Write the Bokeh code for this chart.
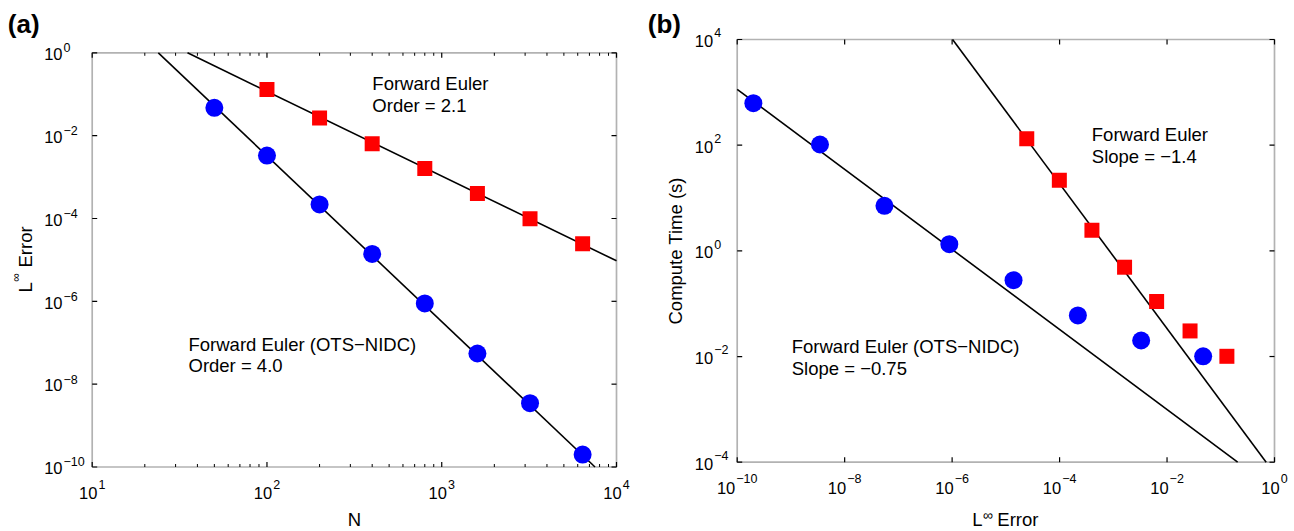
import math
from bokeh.plotting import figure
from bokeh.models import Label, Range1d, BoxAnnotation
from bokeh.layouts import row
from bokeh.embed import file_html
from bokeh.resources import INLINE

FONT = "Liberation Sans"
TEN_SIZE = 16.5
EXP_SIZE = 12.5
TXT_SIZE = 18.5
BASELINE_FIX = 0.37   # svg text sits ~0.37em low relative to canvas baseline

# ---------------- data, panel (a): L-inf error vs N ----------------
n_red = [100, 200, 400, 800, 1600, 3200, 6400]
err_red = [0.13, 2.68e-2, 6.4e-3, 1.62e-3, 4.0e-4, 9.9e-5, 2.45e-5]
n_blue = [50, 100, 200, 400, 800, 1600, 3200, 6400]
err_blue = [4.7e-2, 3.3e-3, 2.19e-4, 1.39e-5, 8.87e-7, 5.5e-8, 3.47e-9, 2.0e-10]
# fitted power-law lines (end points)
fit_a_red_n = [35.1, 1.0e4]
fit_a_red_err = [1.0, 9.5e-6]
fit_a_blue_n = [23.9, 7534]
fit_a_blue_err = [1.0, 1.0e-10]

# ---------------- data, panel (b): compute time vs error ----------------
time_red = [0.0101, 0.0305, 0.110, 0.49, 2.45, 21.8, 132]
time_blue = [0.0101, 0.0201, 0.060, 0.279, 1.34, 7.1, 103, 622]
fit_b_red_err = [1.02e-6, 0.70]
fit_b_red_time = [1.0e4, 1.0e-4]
fit_b_blue_err = [1.0e-10, 0.206]
fit_b_blue_time = [1140, 1.0e-4]

# ---------------- axis limits and ticks ----------------
a_xlim = (1e1, 1e4)
a_ylim = (1e-10, 1e0)
b_xlim = (1e-10, 1e0)
b_ylim = (1e-4, 1e4)
a_xticks = [1e1, 1e2, 1e3, 1e4]
a_xminor = [m * 10.0 ** k for k in range(1, 4) for m in range(2, 10)]
a_yticks = [1e-10, 1e-8, 1e-6, 1e-4, 1e-2, 1e0]
b_xticks = [1e-10, 1e-8, 1e-6, 1e-4, 1e-2, 1e0]
b_yticks = [1e-4, 1e-2, 1e0, 1e2, 1e4]

# ---------------- layout (pixels) ----------------
H = 530
WA, WB = 646, 646
BOX_A = dict(left=91.7, right=616.0, top=52.3, bottom=466.5)
BOX_B = dict(left=90.7, right=628.0, top=39.0, bottom=461.7)

BLUE = "#0000FF"
RED = "#FF0000"


def log_span(v_lo, v_hi, p_lo, p_hi, size):
    """values at pixel 0 and pixel `size` when v_lo sits at p_lo and v_hi at p_hi"""
    k = (math.log10(v_hi) - math.log10(v_lo)) / (p_hi - p_lo)
    return 10 ** (math.log10(v_lo) - p_lo * k), 10 ** (math.log10(v_lo) + (size - p_lo) * k)


def make_fig(w, box, xlim, ylim):
    x0, x1 = log_span(xlim[0], xlim[1], box["left"], box["right"], w)
    # y pixels grow downwards: top of canvas = pixel 0
    y_top, y_bot = log_span(ylim[1], ylim[0], box["top"], box["bottom"], H)
    p = figure(width=w, height=H, x_axis_type="log", y_axis_type="log",
               x_range=Range1d(x0, x1), y_range=Range1d(y_bot, y_top),
               x_axis_location=None, y_axis_location=None,
               min_border=0, min_border_left=0, min_border_right=0,
               min_border_top=0, min_border_bottom=0,
               output_backend="svg", toolbar_location=None,
               background_fill_color="white", border_fill_color="white")
    p.outline_line_color = None
    p.grid.visible = False
    p.add_layout(BoxAnnotation(left=xlim[0], right=xlim[1], bottom=ylim[0], top=ylim[1],
                               fill_color=None, fill_alpha=0, line_color="black",
                               line_width=1.7))
    return p


def box_ticks(p, xlim, ylim, xt, yt, length, lw):
    if xt:
        p.ray(x=xt, y=[ylim[0]] * len(xt), length=length, angle=math.pi / 2,
              length_units="screen", line_color="black", line_width=lw)
        p.ray(x=xt, y=[ylim[1]] * len(xt), length=length, angle=-math.pi / 2,
              length_units="screen", line_color="black", line_width=lw)
    if yt:
        p.ray(x=[xlim[0]] * len(yt), y=yt, length=length, angle=0.0,
              length_units="screen", line_color="black", line_width=lw)
        p.ray(x=[xlim[1]] * len(yt), y=yt, length=length, angle=math.pi,
              length_units="screen", line_color="black", line_width=lw)


def lab(p, x, y, text, size, xo=0.0, yo=0.0, align="left", baseline="alphabetic",
        angle=0.0, bold=False):
    if angle == 0.0:
        yo += BASELINE_FIX * size
    else:
        xo -= BASELINE_FIX * size
    p.add_layout(Label(x=x, y=y, x_units="data", y_units="data", text=text,
                       x_offset=xo, y_offset=yo, text_font=FONT,
                       text_font_size=f"{size}px", text_align=align,
                       text_baseline=baseline, angle=angle,
                       text_font_style="bold" if bold else "normal",
                       text_color="black"))


def exp_text(t):
    return str(round(math.log10(t))).replace("-", "\u2212")


def exp_width(e):
    return sum(0.584 if c == "\u2212" else 0.556 for c in e) * EXP_SIZE


def xtick_labels(p, ticks, ybase, ten_drop, exp_drop):
    tw = 2 * 0.556 * TEN_SIZE
    for t in ticks:
        e = exp_text(t)
        w = tw + 1 + exp_width(e)
        r = -w / 2 + tw
        lab(p, t, ybase, "10", TEN_SIZE, xo=r, yo=-ten_drop, align="right")
        lab(p, t, ybase, e, EXP_SIZE, xo=r + 1, yo=-exp_drop, align="left")


def ytick_labels(p, ticks, xbase, ten_right, ten_drop, exp_rise):
    for t in ticks:
        e = exp_text(t)
        lab(p, xbase, t, "10", TEN_SIZE, xo=-ten_right, yo=-ten_drop, align="right")
        lab(p, xbase, t, e, EXP_SIZE, xo=-ten_right + 1, yo=exp_rise, align="left")


def geo_mid(lim):
    return math.sqrt(lim[0] * lim[1])


# ================= panel (a) =================
pa = make_fig(WA, BOX_A, a_xlim, a_ylim)
box_ticks(pa, a_xlim, a_ylim, a_xminor, None, 3, 1.0)
box_ticks(pa, a_xlim, a_ylim, a_xticks, a_yticks, 5, 1.2)
pa.line(fit_a_red_n, fit_a_red_err, line_color="black", line_width=1.6)
pa.line(fit_a_blue_n, fit_a_blue_err, line_color="black", line_width=1.6)
pa.scatter(n_red, err_red, marker="square", size=15, fill_color=RED, line_color=None)
pa.scatter(n_blue, err_blue, marker="circle", size=18, fill_color=BLUE, line_color=None)

xtick_labels(pa, a_xticks, a_ylim[0], 32.0, 21.8)
ytick_labels(pa, a_yticks, a_xlim[0], 29.7, 7.4, 0.5)

lab(pa, 10 ** 2.603, 10 ** -0.745, "Forward Euler", TXT_SIZE, yo=-6.6)
lab(pa, 10 ** 2.603, 10 ** -1.27, "Order = 2.1", TXT_SIZE, yo=-6.6)
lab(pa, 10 ** 1.551, 10 ** -7.05, "Forward Euler (OTS\u2212NIDC)", TXT_SIZE, yo=-6.6)
lab(pa, 10 ** 1.551, 10 ** -7.56, "Order = 4.0", TXT_SIZE, yo=-6.6)

# axis titles
lab(pa, geo_mid(a_xlim), a_ylim[0], "N", TXT_SIZE, yo=-59.5, align="center")
lab(pa, a_xlim[0], geo_mid(a_ylim), "L", TXT_SIZE, xo=-59.7, yo=-32.6, angle=math.pi / 2)
lab(pa, a_xlim[0], geo_mid(a_ylim), "\u221e", 12, xo=-72.0, yo=-21.8, angle=math.pi / 2)
lab(pa, a_xlim[0], geo_mid(a_ylim), "Error", TXT_SIZE, xo=-59.7, yo=-7.6, angle=math.pi / 2)
# panel letter
lab(pa, a_xlim[0], a_ylim[1], "(a)", 26, xo=-84.4, yo=19.0, bold=True)

# ================= panel (b) =================
pb = make_fig(WB, BOX_B, b_xlim, b_ylim)
box_ticks(pb, b_xlim, b_ylim, b_xticks, b_yticks, 5, 1.2)
pb.line(fit_b_red_err, fit_b_red_time, line_color="black", line_width=1.6)
pb.line(fit_b_blue_err, fit_b_blue_time, line_color="black", line_width=1.6)
pb.scatter(err_red, time_red, marker="square", size=15, fill_color=RED, line_color=None)
pb.scatter(err_blue, time_blue, marker="circle", size=18, fill_color=BLUE, line_color=None)

xtick_labels(pb, b_xticks, b_ylim[0], 32.0, 21.0)
ytick_labels(pb, b_yticks, b_xlim[0], 24.0, 7.7, 2.0)

lab(pb, 10 ** -3.40, 10 ** 2.204, "Forward Euler", TXT_SIZE, yo=-6.6)
lab(pb, 10 ** -3.40, 10 ** 1.787, "Slope = \u22121.4", TXT_SIZE, yo=-6.6)
lab(pb, 10 ** -8.985, 10 ** -1.806, "Forward Euler (OTS\u2212NIDC)", TXT_SIZE, yo=-6.6)
lab(pb, 10 ** -8.985, 10 ** -2.223, "Slope = \u22120.75", TXT_SIZE, yo=-6.6)

# axis titles: x title centred on the box
xc = geo_mid(b_xlim)
lab(pb, xc, b_ylim[0], "L", TXT_SIZE, xo=-33.5, yo=-64.3)
lab(pb, xc, b_ylim[0], "\u221e", 14, xo=-23.0, yo=-57.8)
lab(pb, xc, b_ylim[0], "Error", TXT_SIZE, xo=-8.5, yo=-64.3)
lab(pb, b_xlim[0], geo_mid(b_ylim), "Compute Time (s)", TXT_SIZE, xo=-54.7,
    align="center", angle=math.pi / 2)
lab(pb, b_xlim[0], b_ylim[1], "(b)", 26, xo=-89.4, yo=5.7, bold=True)

layout = row(pa, pb, spacing=0)
open("out.html", "w").write(file_html(layout, INLINE))
